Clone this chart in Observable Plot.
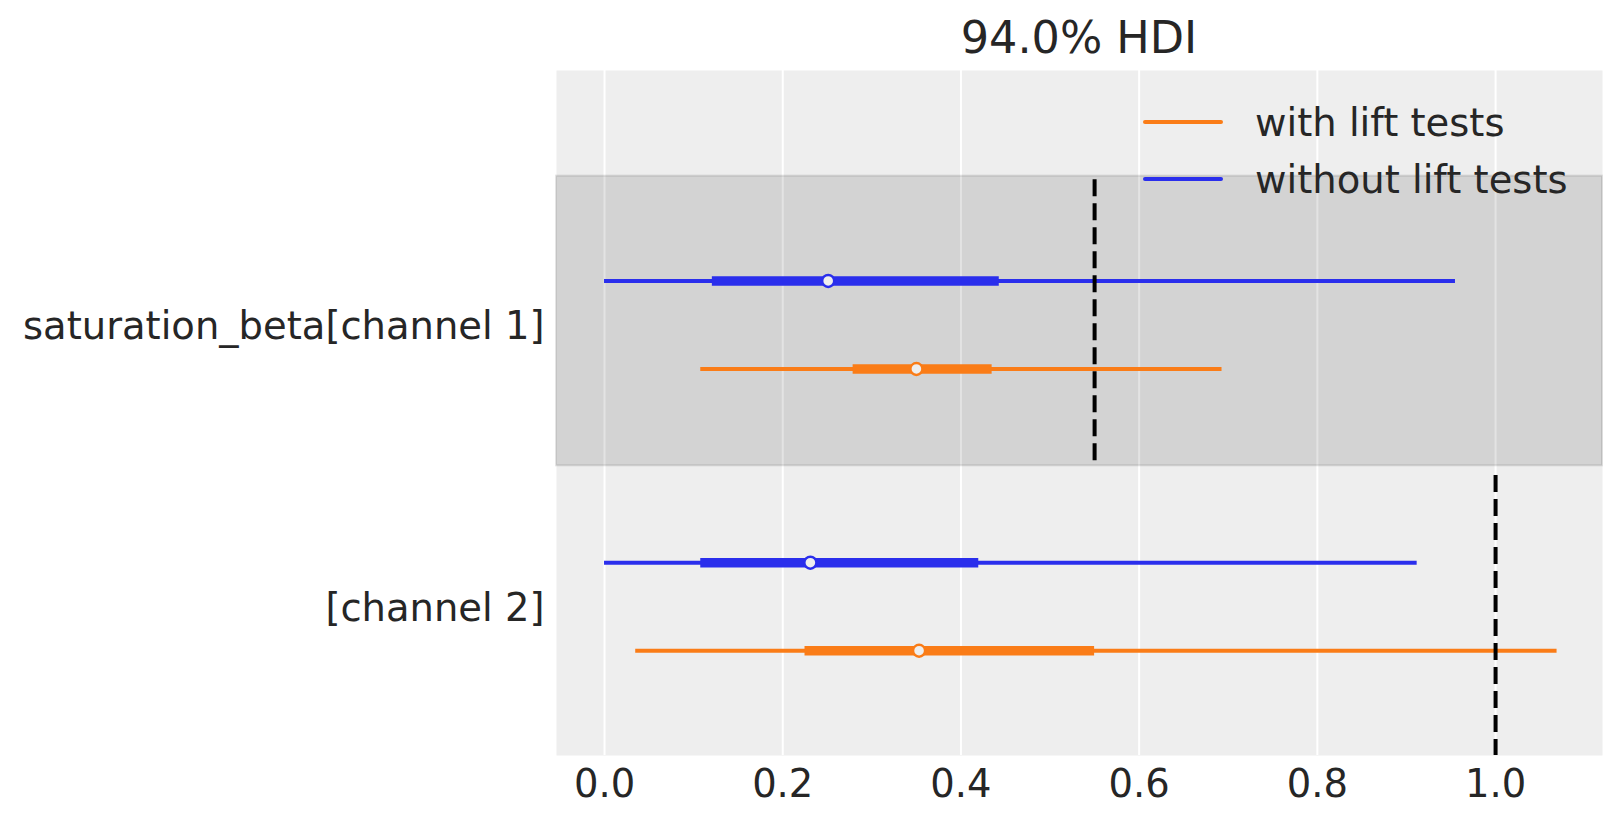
<!DOCTYPE html>
<html>
<head>
<meta charset="utf-8">
<script src="https://cdn.jsdelivr.net/npm/d3@7"></script>
<script src="https://cdn.jsdelivr.net/npm/@observablehq/plot@0.6"></script>
<style>
  html, body { margin: 0; padding: 0; background: #fff; }
  body { width: 1623px; height: 823px; position: relative; overflow: hidden;
         font-family: "DejaVu Sans", sans-serif; color: #262626; }
  #title { position: absolute; left: 556px; width: 1046px; top: 16px; text-align: center;
           font-size: 44.5px; line-height: 44.5px; }
  #chart { position: absolute; left: 0; top: 70px; }
  .leg { position: absolute; font-size: 38.5px; line-height: 38.5px; white-space: nowrap; }
  .legline { position: absolute; height: 4px; border-radius: 2px; }
</style>
</head>
<body>
<div id="title">94.0% HDI</div>
<div id="chart"></div>
<div id="legend"></div>
<script>
// ---- data ----
const channels = ["channel 1", "channel 2"];
const trueValues = [0.55, 1.0];
const models = ["with lift tests", "without lift tests"];
const modelColors = ["#fa7c17", "#2a2eec"];

const rowChannel = ["channel 1", "channel 1", "channel 2", "channel 2"];
const rowModel   = ["without lift tests", "with lift tests", "without lift tests", "with lift tests"];
const hdi94Low   = [0.000, 0.108, 0.000, 0.035];
const hdi94High  = [0.955, 0.693, 0.912, 1.069];
const hdi50Low   = [0.121, 0.279, 0.108, 0.225];
const hdi50High  = [0.443, 0.435, 0.420, 0.550];
const medians    = [0.251, 0.350, 0.231, 0.353];
const xTicks = [0.0, 0.2, 0.4, 0.6, 0.8, 1.0];
const yLabels = ["saturation_beta[channel 1]", "[channel 2]"];

// ---- layout helpers (row positions on the y scale) ----
const chSpacing = 3.2;
const nCh = channels.length;
const chBase = c => (nCh - 1 - channels.indexOf(c)) * chSpacing;
const modelOffset = m => (m === "without lift tests" ? 1 : 0);
const colorOf = m => modelColors[models.indexOf(m)];

const rows = rowChannel.map((c, i) => ({
  channel: c, model: rowModel[i],
  y: chBase(c) + modelOffset(rowModel[i]),
  lo94: hdi94Low[i], hi94: hdi94High[i],
  lo50: hdi50Low[i], hi50: hdi50High[i],
  med: medians[i]
}));
const chCenters = channels.map(c => chBase(c) + 0.5);
const xDomain = [-0.0539, 1.120];
const yDomain = [-1.19, 6.59];

const bands = channels.filter((c, i) => i % 2 === 0).map(c => ({ y1: chBase(c) + 0.5 - 1.6, y2: chBase(c) + 0.5 + 1.69 }));
// dashed reference lines drawn from top to bottom so the dash pattern starts at the top
const refs = channels.map((c, i) => ({ x: trueValues[i],
  yTop: chBase(c) + 0.5 + (i === 0 ? 1.65 : 1.49),
  yBottom: Math.max(yDomain[0], chBase(c) + 0.5 - 1.6 - (i === nCh - 1 ? 0.1 : 0)) }));

const chart = Plot.plot({
  width: 1623,
  height: 753,
  marginTop: 0,
  marginBottom: 68,
  marginLeft: 556,
  marginRight: 21,
  style: { fontFamily: "DejaVu Sans, sans-serif", color: "#262626", background: "transparent", overflow: "visible" },
  x: { domain: xDomain },
  y: { domain: yDomain },
  marks: [
    Plot.frame({ fill: "#eeeeee", stroke: null }),
    Plot.ruleX(xTicks, { stroke: "white", strokeWidth: 2 }),
    Plot.rect(bands, { x1: () => xDomain[0], x2: () => xDomain[1], y1: "y1", y2: "y2",
      fill: "black", fillOpacity: 0.11, stroke: "black", strokeOpacity: 0.1, strokeWidth: 2 }),
    Plot.ruleY(rows, { y: "y", x1: "lo94", x2: "hi94", stroke: d => colorOf(d.model), strokeWidth: 4 }),
    Plot.ruleY(rows, { y: "y", x1: "lo50", x2: "hi50", stroke: d => colorOf(d.model), strokeWidth: 9.5 }),
    Plot.dot(rows, { x: "med", y: "y", r: 6, fill: "#eeeeee", stroke: d => colorOf(d.model), strokeWidth: 2.4 }),
    Plot.ruleX(refs, { x: "x", y1: "yTop", y2: "yBottom", stroke: "black", strokeWidth: 4, strokeDasharray: "17,7" }),
    Plot.axisX({ ticks: xTicks, tickFormat: d3.format(".1f"), tickSize: 0, tickPadding: 14,
      fontSize: 38.5, label: null, fill: "#262626" }),
    Plot.axisY({ ticks: chCenters, tickFormat: (d, i) => yLabels[chCenters.indexOf(d)], tickSize: 0,
      tickPadding: 12, fontSize: 38.5, dy: 2, label: null, fill: "#262626" })
  ]
});
document.getElementById("chart").appendChild(chart);

// ---- legend (overlay in the top-right of the plot area) ----
const legend = document.getElementById("legend");
models.forEach((m, i) => {
  const yLine = 122 + i * 56.7;
  const line = document.createElement("div");
  line.className = "legline";
  line.style.left = "1143px";
  line.style.width = "80px";
  line.style.top = (yLine - 2) + "px";
  line.style.background = modelColors[i];
  legend.appendChild(line);
  const t = document.createElement("div");
  t.className = "leg";
  t.textContent = m;
  t.style.left = "1255px";
  t.style.top = (yLine - 18) + "px";
  legend.appendChild(t);
});
</script>
</body>
</html>
